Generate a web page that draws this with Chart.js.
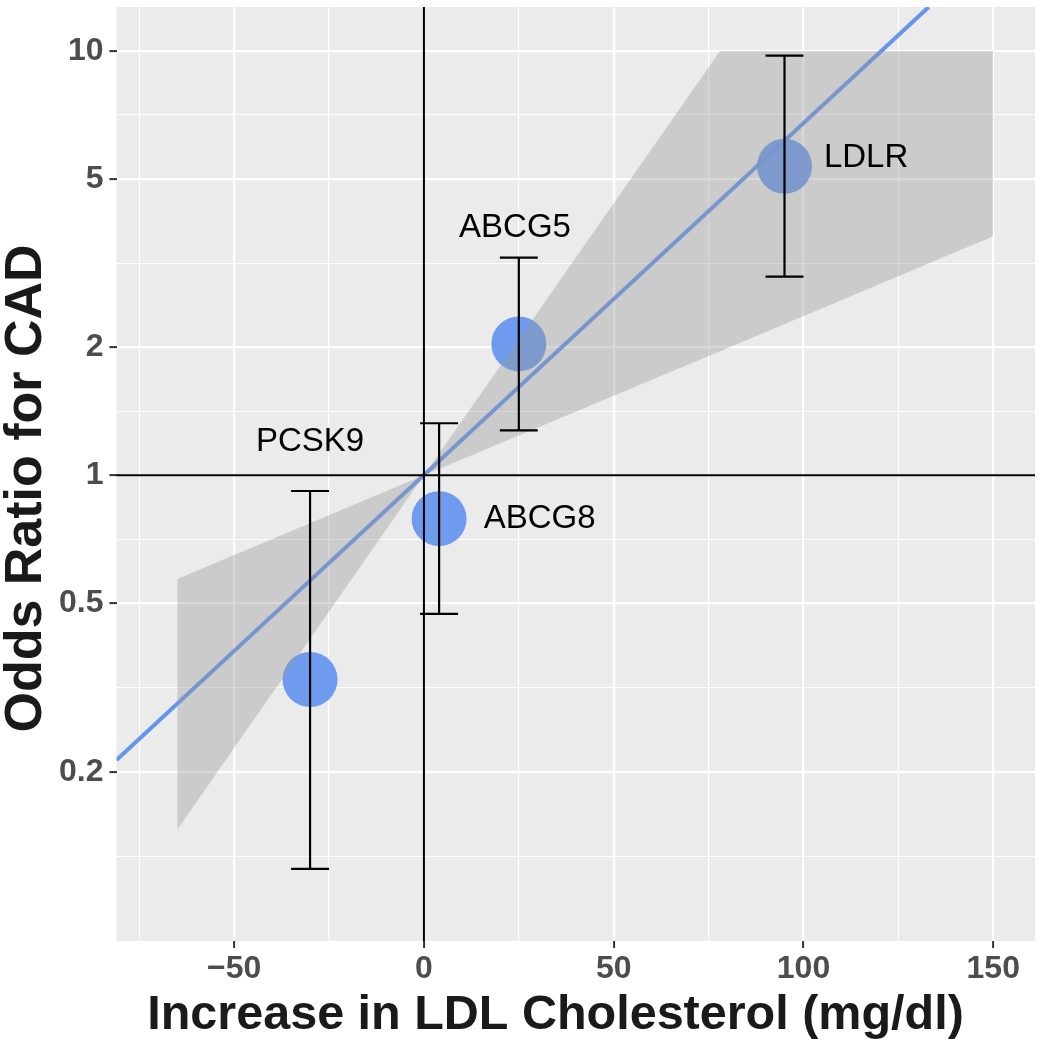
<!DOCTYPE html>
<html>
<head>
<meta charset="utf-8">
<script src="https://cdn.jsdelivr.net/npm/chart.js@4.4.0/dist/chart.umd.min.js"></script>
<style>
  html, body { margin: 0; padding: 0; background: #fff; }
</style>
</head>
<body>
<canvas id="myChart" width="1044" height="1050"></canvas>
<script>
// gene level estimates
const genes = ["PCSK9", "ABCG8", "ABCG5", "LDLR"];
const ldlIncrease = [-30, 4, 25, 95];
const oddsRatio = [0.33, 0.79, 2.04, 5.35];
const ciLower = [0.118, 0.471, 1.276, 2.94];
const ciUpper = [0.918, 1.326, 3.26, 9.75];
// where the gene names sit (data units)
const labelX = [-30, 30.5, 24, 116.5];
const labelY = [1.2, 0.787, 3.82, 5.59];

// fitted line and its confidence band
const fitX = [-81, 133];
const fitY = [0.213, 12.7];
const bandX = [-65, 0, 78, 150];
const bandUpper = [0.569, 1, 10, 10];
const bandLower = [0.146, 1, 1.96, 3.66];

const xMajorTicks = [-50, 0, 50, 100, 150];
const xMinorTicks = [-75, -25, 25, 75, 125];
const yMajorTicks = [0.2, 0.5, 1, 2, 5, 10];
const yMinorTicks = [0.1265, 0.316, 0.707, 1.414, 3.162, 7.07];

const FONT = "'Liberation Sans', Arial, Helvetica, sans-serif";
const capHalf = 5;

const errorBarData = [];
ldlIncrease.forEach((x, i) => {
  errorBarData.push(
    { x: x, y: ciLower[i] }, { x: x, y: ciUpper[i] }, { x: x, y: null },
    { x: x - capHalf, y: ciUpper[i] }, { x: x + capHalf, y: ciUpper[i] }, { x: x, y: null },
    { x: x - capHalf, y: ciLower[i] }, { x: x + capHalf, y: ciLower[i] }, { x: x, y: null }
  );
});

const panelBg = {
  id: "panelBg",
  beforeDraw(chart) {
    const { ctx, chartArea: a } = chart;
    ctx.save();
    ctx.fillStyle = "#EBEBEB";
    ctx.fillRect(a.left, a.top, a.right - a.left, a.bottom - a.top);
    ctx.restore();
  },
};

const refLines = {
  id: "refLines",
  afterDatasetsDraw(chart) {
    const { ctx, chartArea: a, scales } = chart;
    const px = scales.x.getPixelForValue(0);
    const py = scales.y.getPixelForValue(1);
    ctx.save();
    ctx.strokeStyle = "#000";
    ctx.lineWidth = 2;
    ctx.beginPath();
    ctx.moveTo(px, a.top);
    ctx.lineTo(px, a.bottom);
    ctx.moveTo(a.left, py);
    ctx.lineTo(a.right, py);
    ctx.stroke();
    ctx.restore();
  },
};

const geneLabels = {
  id: "geneLabels",
  afterDatasetsDraw(chart) {
    const { ctx, scales } = chart;
    ctx.save();
    ctx.fillStyle = "#000";
    ctx.font = "33px " + FONT;
    ctx.textAlign = "center";
    ctx.textBaseline = "middle";
    genes.forEach((g, i) => {
      ctx.fillText(g, scales.x.getPixelForValue(labelX[i]), scales.y.getPixelForValue(labelY[i]));
    });
    ctx.restore();
  },
};

const fmt = (v) => (v < 0 ? "\u2212" + Math.abs(v) : String(v));
const noPad = (s) => {
  s.paddingLeft = 0;
  s.paddingRight = 0;
  s.paddingTop = 0;
  s.paddingBottom = 0;
};

new Chart(document.getElementById("myChart"), {
  type: "line",
  data: {
    datasets: [
      {
        label: "fit",
        data: fitX.map((x, i) => ({ x: x, y: fitY[i] })),
        borderColor: "#6495ED",
        borderWidth: 4,
        pointRadius: 0,
        fill: false,
        order: 5,
      },
      {
        label: "genes",
        data: ldlIncrease.map((x, i) => ({ x: x, y: oddsRatio[i] })),
        showLine: false,
        pointRadius: 27.5,
        pointBackgroundColor: "rgba(100,149,237,0.93)",
        pointBorderWidth: 0,
        order: 4,
      },
      {
        label: "band upper",
        data: bandX.map((x, i) => ({ x: x, y: bandUpper[i] })),
        borderWidth: 0,
        pointRadius: 0,
        fill: false,
        order: 3,
      },
      {
        label: "band lower",
        data: bandX.map((x, i) => ({ x: x, y: bandLower[i] })),
        borderWidth: 0,
        pointRadius: 0,
        fill: "-1",
        backgroundColor: "rgba(153,153,153,0.38)",
        order: 3,
      },
      {
        label: "error bars",
        data: errorBarData,
        borderColor: "#000",
        borderWidth: 2.2,
        pointRadius: 0,
        spanGaps: false,
        fill: false,
        order: 1,
      },
    ],
  },
  options: {
    responsive: false,
    animation: false,
    devicePixelRatio: 1,
    layout: { autoPadding: false, padding: { top: 7, right: 9, left: 0, bottom: 0 } },
    plugins: { legend: { display: false }, tooltip: { enabled: false } },
    scales: {
      x: {
        type: "linear",
        min: -81,
        max: 161,
        afterBuildTicks: (s) => {
          s.ticks = xMajorTicks.concat(xMinorTicks).sort((a, b) => a - b).map((v) => ({ value: v }));
        },
        afterFit: (s) => { s.height = 109; noPad(s); },
        border: { display: false },
        grid: {
          color: "#FFFFFF",
          lineWidth: (c) => (c.tick && xMajorTicks.includes(c.tick.value) ? 2.2 : 1.1),
          tickLength: 7,
          tickWidth: 2,
          tickColor: (c) => (c.tick && xMajorTicks.includes(c.tick.value) ? "#333333" : "rgba(0,0,0,0)"),
        },
        ticks: {
          autoSkip: false,
          maxRotation: 0,
          padding: 2,
          color: "#4D4D4D",
          font: { family: FONT, size: 32, weight: "bold" },
          callback: (v) => (xMajorTicks.includes(v) ? fmt(v) : ""),
        },
        title: {
          display: true,
          // trailing spaces nudge the centred title left, as in the original
          text: "Increase in LDL Cholesterol (mg/dl)   ",
          color: "#1A1A1A",
          font: { family: FONT, size: 48.5, weight: "bold", lineHeight: 1 },
          padding: { top: 0, bottom: 10 },
        },
      },
      y: {
        type: "logarithmic",
        min: 0.0798,
        max: 12.7,
        afterBuildTicks: (s) => {
          s.ticks = yMajorTicks.concat(yMinorTicks).sort((a, b) => a - b).map((v) => ({ value: v }));
        },
        afterFit: (s) => { s.width = 116.5; noPad(s); },
        border: { display: false },
        grid: {
          color: "#FFFFFF",
          lineWidth: (c) => (c.tick && yMajorTicks.includes(c.tick.value) ? 2.2 : 1.1),
          tickLength: 7,
          tickWidth: 2,
          tickColor: (c) => (c.tick && yMajorTicks.includes(c.tick.value) ? "#333333" : "rgba(0,0,0,0)"),
        },
        ticks: {
          autoSkip: false,
          padding: 6,
          color: "#4D4D4D",
          font: { family: FONT, size: 32, weight: "bold" },
          callback: (v) => (yMajorTicks.includes(v) ? fmt(v) : ""),
        },
        title: {
          display: true,
          text: "Odds Ratio for CAD  ",
          color: "#1A1A1A",
          font: { family: FONT, size: 52, weight: "bold", lineHeight: 1 },
          padding: { top: 1, bottom: 0 },
        },
      },
    },
  },
  plugins: [panelBg, refLines, geneLabels],
});
</script>
</body>
</html>
